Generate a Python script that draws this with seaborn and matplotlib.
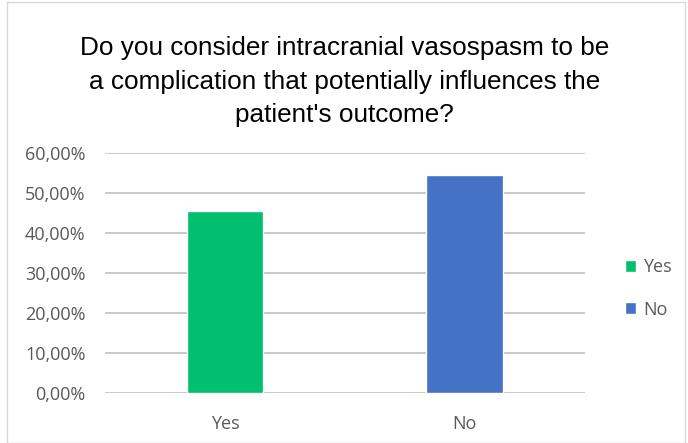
import matplotlib.pyplot as plt
import seaborn as sns
import pandas as pd

answers = ["Yes", "No"]
shares = [45.45, 54.55]
colors = ["#00BF6F", "#4472C4"]

df = pd.DataFrame({"answer": answers, "share": shares})

sns.set_style("white")
plt.rcParams["font.family"] = ["Open Sans", "DejaVu Sans"]

fig = plt.figure(figsize=(6.88, 4.43), dpi=100)
ax = fig.add_axes([0.1526, 0.1129, 0.697, 0.5417])

sns.barplot(
    data=df,
    x="answer",
    y="share",
    hue="answer",
    palette=colors,
    saturation=1,
    width=0.32,
    ax=ax,
    legend=True
)

ax.set_ylim(0, 60)
ax.set_yticks(range(0, 61, 10))
ax.set_yticklabels([f"{v},00%" for v in range(0, 61, 10)])
ax.set_xlim(-0.5, 1.5)
ax.set_xlabel("")
ax.set_ylabel("")
ax.yaxis.grid(True, color="#BFBFBF", linewidth=1.2)
ax.set_axisbelow(True)
for s in ax.spines.values():
    s.set_visible(False)
ax.tick_params(axis="both", length=0, labelsize=13, colors="#595959")
ax.tick_params(axis="y", pad=14)
ax.tick_params(axis="x", pad=16)

sns.move_legend(
    ax, "center left",
    bbox_to_anchor=(1.05, 0.435),
    frameon=False, title=None,
    fontsize=13, labelcolor="#595959",
    handlelength=0.65, handleheight=0.65,
    labelspacing=1.35, handletextpad=0.35
)

fig.text(
    0.501, 0.816,
    "Do you consider intracranial vasospasm to be\n"
    "a complication that potentially influences the\n"
    "patient's outcome?",
    ha="center", va="center", fontsize=18.8, color="#000000",
    family=["Liberation Sans", "DejaVu Sans"], linespacing=1.48
)

border = plt.Rectangle((0.01, 0.0), 0.985, 0.995, transform=fig.transFigure,
                       fill=False, edgecolor="#D9D9D9", linewidth=1)
fig.patches.append(border)

fig.savefig("out.png", dpi=100)
